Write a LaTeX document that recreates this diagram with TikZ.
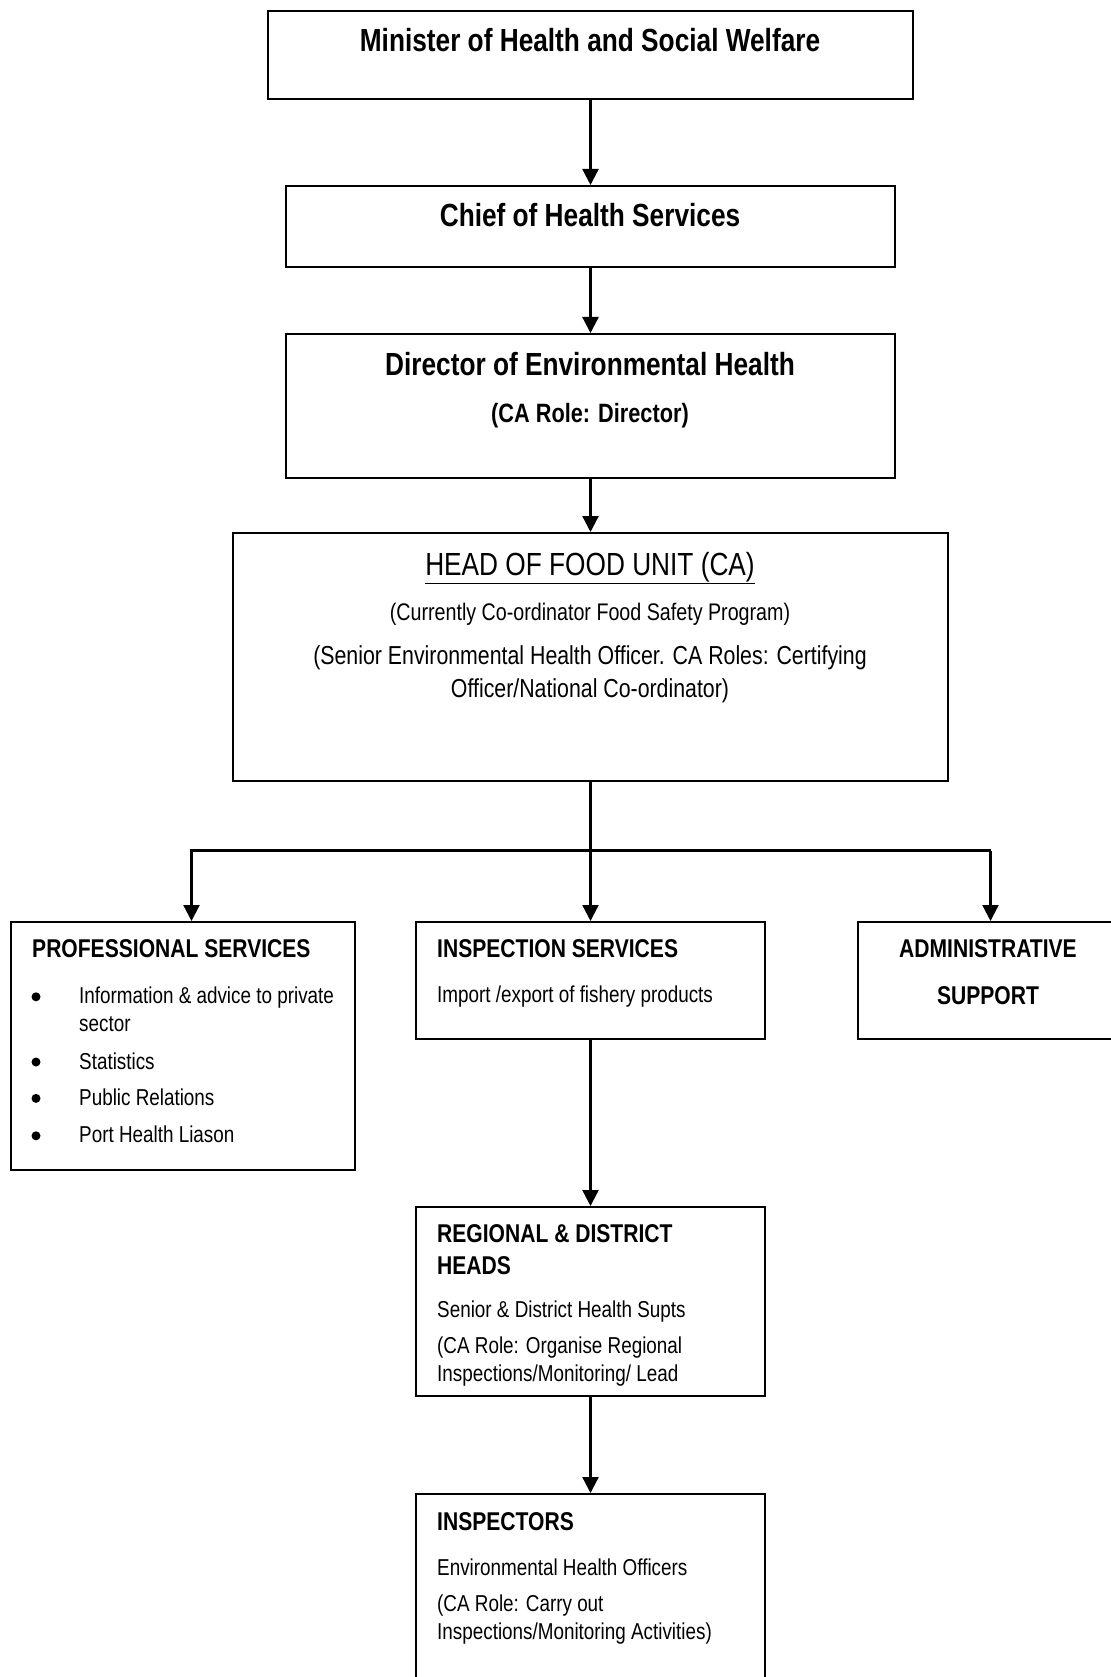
\documentclass[tikz,border=0pt]{standalone}
\usepackage{fontspec}
\setmainfont{Liberation Sans}[FakeStretch=0.82]
\usetikzlibrary{arrows.meta}
\begin{document}
\begin{tikzpicture}[x=1pt,y=-1pt,
  box/.style={draw=black,line width=2pt,rectangle,inner sep=0pt,fill=none},
  ln/.style={line width=2.3pt},
  arr/.style={line width=2.3pt,-{Triangle[length=16pt,width=16pt]}},
  txt/.style={inner sep=0pt,anchor=base},
  ltxt/.style={inner sep=0pt,anchor=base west},
  dot/.style={circle,fill=black,inner sep=0pt,minimum size=9pt},
  ttl/.style={font=\fontsize{32}{38}\selectfont\bfseries},
  sub/.style={font=\fontsize{26.5}{32}\selectfont\bfseries},
  hd/.style={font=\fontsize{25.7}{30}\selectfont\bfseries},
  bd/.style={font=\fontsize{23}{28}\selectfont},
]
\useasboundingbox (0,0) rectangle (1110,1677);
\fill[white] (0,0) rectangle (1110,1677);

% boxes
\node[box,minimum width=645pt,minimum height=88pt] (min) at (590.5,55) {};
\node[box,minimum width=609pt,minimum height=81pt] (chief) at (590.5,226.5) {};
\node[box,minimum width=609pt,minimum height=144pt] (dir) at (590.5,406) {};
\node[box,minimum width=715pt,minimum height=248pt] (head) at (590.5,657) {};
\node[box,minimum width=344pt,minimum height=248pt] (prof) at (183,1046) {};
\node[box,minimum width=349pt,minimum height=117pt] (insp) at (590.5,980.5) {};
\node[box,minimum width=256pt,minimum height=117pt] (admin) at (986,980.5) {};
\node[box,minimum width=349pt,minimum height=189pt] (reg) at (590.5,1301.5) {};
\node[box,minimum width=349pt,minimum height=206pt] (inspr) at (590.5,1597) {};

% texts
\node[txt,ttl] (t1) at (590,52) {Minister of Health and Social Welfare};
\node[txt,ttl] (t2) at (590,226.5) {Chief of Health Services};
\node[txt,ttl] (t3) at (590,375) {Director of Environmental Health};
\node[txt,sub] (t4) at (590,422.3) {(CA Role: Director)};
\node[txt,font=\fontsize{32}{38}\selectfont] (t5) at (590,575) {\underline{HEAD OF FOOD UNIT (CA)}};
\node[txt,font=\fontsize{24}{29}\selectfont] (t6) at (590,620.3) {(Currently Co-ordinator Food Safety Program)};
\node[txt,font=\fontsize{26}{31}\selectfont] (t7) at (590,664.8) {(Senior Environmental Health Officer. CA Roles: Certifying};
\node[txt,font=\fontsize{26}{31}\selectfont] (t8) at (590,697) {Officer/National Co-ordinator)};

\node[ltxt,hd] (p0) at (32,957.8) {PROFESSIONAL SERVICES};
\node[dot] (b1) at (36,996.8) {};
\node[ltxt,bd] (p1) at (79,1003.8) {Information \& advice to private};
\node[ltxt,bd] (p1b) at (79,1031.6) {sector};
\node[dot] (b2) at (36,1062) {};
\node[ltxt,bd] (p2) at (79,1069) {Statistics};
\node[dot] (b3) at (36,1098.4) {};
\node[ltxt,bd] (p3) at (79,1105.4) {Public Relations};
\node[dot] (b4) at (36,1135.8) {};
\node[ltxt,bd] (p4) at (79,1142.8) {Port Health Liason};

\node[ltxt,hd] (i0) at (437,957.8) {INSPECTION SERVICES};
\node[ltxt,bd] (i1) at (437,1002.7) {Import /export of fishery products};

\node[txt,hd] (a0) at (988,957.8) {ADMINISTRATIVE};
\node[txt,hd] (a1) at (988,1004.8) {SUPPORT};

\node[ltxt,hd] (r0) at (437,1242) {REGIONAL \& DISTRICT};
\node[ltxt,hd] (r1) at (437,1274) {HEADS};
\node[ltxt,bd] (r2) at (437,1317) {Senior \& District Health Supts};
\node[ltxt,bd] (r3) at (437,1353.5) {(CA Role: Organise Regional};
\node[ltxt,bd] (r4) at (437,1381) {Inspections/Monitoring/ Lead};

\node[ltxt,hd] (n0) at (437,1530) {INSPECTORS};
\node[ltxt,bd] (n1) at (437,1575) {Environmental Health Officers};
\node[ltxt,bd] (n2) at (437,1611) {(CA Role: Carry out};
\node[ltxt,bd] (n3) at (437,1639) {Inspections/Monitoring Activities)};

% connectors
\draw[arr] (min.south) -- (chief.north);
\draw[arr] (chief.south) -- (dir.north);
\draw[arr] (dir.south) -- (head.north);
\coordinate (bus) at (590.5,850.5);
\coordinate (busL) at (191.5,850.5);
\coordinate (busR) at (990.5,850.5);
\draw[ln] (head.south) -- (bus);
\draw[arr] (bus) -- (insp.north);
\draw[arr,line join=miter] (busR) -- (busL) -- (busL |- prof.north);
\draw[arr] (busR) -- (busR |- admin.north);
\draw[arr] (insp.south) -- (reg.north);
\draw[arr] (reg.south) -- (inspr.north);
\end{tikzpicture}
\end{document}
